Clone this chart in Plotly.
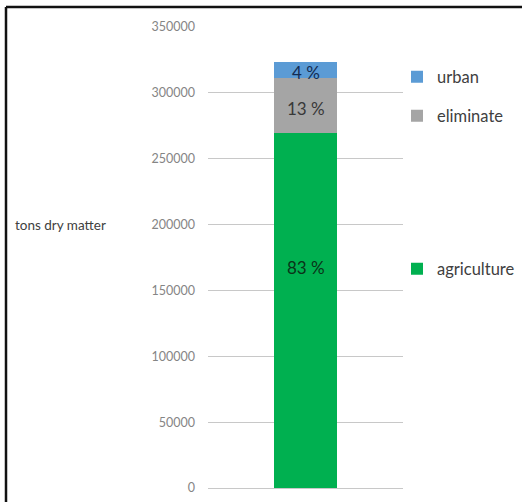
import plotly.graph_objects as go

# ---- data ----
category = ["total"]
series_names = ["agriculture", "eliminate", "urban"]
agriculture = [269500]
eliminate = [41800]
urban = [12100]
series_values = [agriculture, eliminate, urban]
series_colors = ["#00b050", "#a5a5a5", "#5b9bd5"]
label_colors = ["#0a3318", "#383838", "#142c52"]
# relative position of the percentage label inside each segment (0=bottom, 1=top)
label_frac = [0.62, 0.45, 0.33]
tick_values = [0, 50000, 100000, 150000, 200000, 250000, 300000, 350000]
tick_labels = ["0", "50000", "100000", "150000", "200000", "250000", "300000", "350000"]
y_title = "tons dry matter"

W, H = 522, 502
FONT = "Lato"

total = sum(v[0] for v in series_values)

fig = go.Figure()
legend_ids = ["legend3", "legend2", "legend"]
for name, vals, col, lg in zip(series_names, series_values, series_colors, legend_ids):
    fig.add_trace(go.Bar(
        x=category, y=vals, name=name, marker=dict(color=col, line=dict(width=0)),
        width=0.32, legend=lg, showlegend=True, hoverinfo="skip",
    ))

# percentage labels
base = 0
annotations = []
for vals, col, fr in zip(series_values, label_colors, label_frac):
    v = vals[0]
    pct = round(100 * v / total)
    annotations.append(dict(
        x=category[0], y=base + fr * v, xref="x", yref="y",
        text=f"{pct} %", showarrow=False,
        font=dict(family=FONT, size=17, color=col),
    ))
    base += v

annotations.append(dict(
    x=13 / W, y=1 - 225 / H, xref="paper", yref="paper",
    xanchor="left", yanchor="middle", text=y_title, showarrow=False,
    font=dict(family=FONT, size=13.5, color="#404040"),
))

legend_common = dict(
    xanchor="left", yanchor="middle", bgcolor="rgba(0,0,0,0)",
    font=dict(family=FONT, size=16.5, color="#404040"),
    itemclick=False, itemdoubleclick=False, visible=True,
)
lx = 397 / W

fig.update_layout(
    width=W, height=H, autosize=False,
    margin=dict(l=0, r=0, t=0, b=0, pad=0, autoexpand=False),
    paper_bgcolor="white", plot_bgcolor="white",
    barmode="stack",
    showlegend=True,
    font=dict(family=FONT),
    xaxis=dict(domain=[208 / W, 403 / W], range=[-0.5, 0.5],
               showticklabels=False, showgrid=False, zeroline=False,
               showline=False, fixedrange=True, automargin=False),
    yaxis=dict(domain=[(H - 488) / H, (H - 27) / H], range=[0, 350000],
               tickvals=tick_values, ticktext=tick_labels,
               showgrid=True, gridcolor="#c8c8c8", gridwidth=1,
               zeroline=True, zerolinecolor="#c8c8c8", zerolinewidth=1,
               showline=False, ticks="", ticklabelstandoff=12,
               tickfont=dict(family=FONT, size=12.5, color="#858585"),
               fixedrange=True, automargin=False),
    legend=dict(x=lx, y=1 - 77 / H, **legend_common),
    legend2=dict(x=lx, y=1 - 116 / H, **legend_common),
    legend3=dict(x=lx, y=1 - 269 / H, **legend_common),
    annotations=annotations,
    shapes=[
        dict(type="line", xref="paper", yref="paper",
             x0=6 / W, x1=6 / W, y0=0, y1=1 - 7 / H,
             line=dict(color="#111111", width=2.5)),
        dict(type="line", xref="paper", yref="paper",
             x0=6 / W, x1=1.0, y0=1 - 7 / H, y1=1 - 7 / H,
             line=dict(color="#111111", width=2.5)),
    ],
)

fig.write_html("out.html", config={"displayModeBar": False})
